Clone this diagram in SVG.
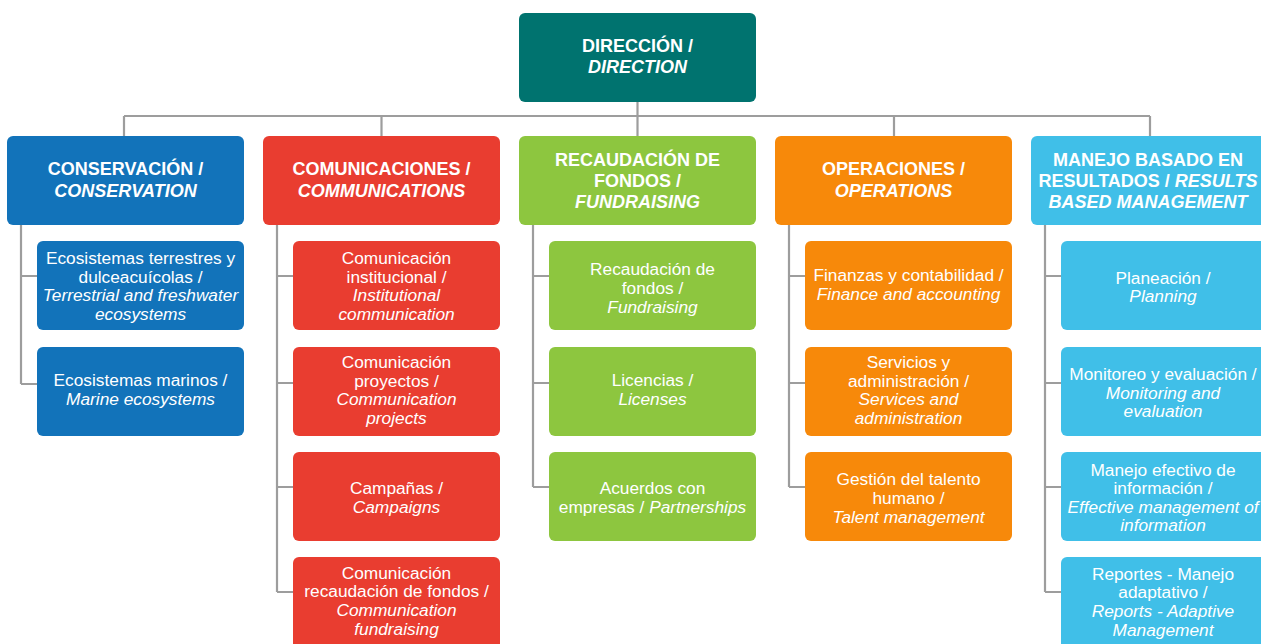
<svg xmlns="http://www.w3.org/2000/svg" width="1261" height="644" viewBox="0 0 1261 644">
<style>
.hd{font-family:"Liberation Sans",Arial,Helvetica,sans-serif;font-size:18px;font-weight:bold;fill:#fff;text-anchor:middle}
.ch{font-family:"Liberation Sans",Arial,Helvetica,sans-serif;font-size:17.3px;fill:#fff;text-anchor:middle}
.it{font-style:italic}
.ln{fill:none;stroke:#9d9d9d;stroke-width:2.2}
.dir{fill:#00736f}.con{fill:#1273ba}.com{fill:#e93d30}.rec{fill:#8dc63f}.ope{fill:#f7890a}.man{fill:#40bfe8}
</style>
<rect width="1261" height="644" fill="#fff"/>
<g id="connectors">
<path class="ln" d="M637.5 102V116M124 116H1150M124 116V136M381.5 116V136M637.5 116V136M894 116V136M1150 116V136"/>
<path class="ln" d="M21 225V384M21 276H37M21 384H37"/>
<path class="ln" d="M277 225V592M277 276H293M277 383H293M277 487H293M277 592H293"/>
<path class="ln" d="M533 225V487M533 276H549M533 383H549M533 487H549"/>
<path class="ln" d="M789 225V487M789 276H805M789 383H805M789 487H805"/>
<path class="ln" d="M1045 225V592M1045 276H1061M1045 383H1061M1045 487H1061M1045 592H1061"/>
</g>
<g id="direction">
<rect class="dir" x="519" y="13" width="237" height="89" rx="6"/>
<text class="hd" x="637.5" y="51.5">DIRECCIÓN /</text>
<text class="hd it" x="637.5" y="72.5">DIRECTION</text>
</g>
<g id="conservation">
<rect class="con" x="7" y="136" width="237" height="89" rx="6"/>
<text class="hd" x="125.5" y="174.5">CONSERVACIÓN /</text>
<text class="hd it" x="125.5" y="196.5">CONSERVATION</text>
</g>
<g id="communications">
<rect class="com" x="263" y="136" width="237" height="89" rx="6"/>
<text class="hd" x="381.5" y="174.5">COMUNICACIONES /</text>
<text class="hd it" x="381.5" y="196.5">COMMUNICATIONS</text>
</g>
<g id="fundraising">
<rect class="rec" x="519" y="136" width="237" height="89" rx="6"/>
<text class="hd" x="637.5" y="165.5">RECAUDACIÓN DE</text>
<text class="hd" x="637.5" y="186.5">FONDOS /</text>
<text class="hd it" x="637.5" y="207.5">FUNDRAISING</text>
</g>
<g id="operations">
<rect class="ope" x="775" y="136" width="237" height="89" rx="6"/>
<text class="hd" x="893.5" y="174.5">OPERACIONES /</text>
<text class="hd it" x="893.5" y="196.5">OPERATIONS</text>
</g>
<g id="rbm">
<rect class="man" x="1031" y="136" width="237" height="89" rx="6"/>
<text class="hd" x="1148" y="165.5">MANEJO BASADO EN</text>
<text class="hd" x="1148" y="186.5">RESULTADOS / <tspan class="it">RESULTS</tspan></text>
<text class="hd it" x="1148" y="207.5">BASED MANAGEMENT</text>
</g>
<g id="con1">
<rect class="con" x="37" y="241" width="207" height="89" rx="6"/>
<text class="ch" x="140.5" y="264">Ecosistemas terrestres y</text>
<text class="ch" x="140.5" y="283">dulceacuícolas /</text>
<text class="ch it" x="140.5" y="301">Terrestrial and freshwater</text>
<text class="ch it" x="140.5" y="320">ecosystems</text>
</g>
<g id="con2">
<rect class="con" x="37" y="347" width="207" height="89" rx="6"/>
<text class="ch" x="140.5" y="386">Ecosistemas marinos /</text>
<text class="ch it" x="140.5" y="405">Marine ecosystems</text>
</g>
<g id="com1">
<rect class="com" x="293" y="241" width="207" height="89" rx="6"/>
<text class="ch" x="396.5" y="264">Comunicación</text>
<text class="ch" x="396.5" y="283">institucional /</text>
<text class="ch it" x="396.5" y="301">Institutional</text>
<text class="ch it" x="396.5" y="320">communication</text>
</g>
<g id="com2">
<rect class="com" x="293" y="347" width="207" height="89" rx="6"/>
<text class="ch" x="396.5" y="368">Comunicación</text>
<text class="ch" x="396.5" y="387">proyectos /</text>
<text class="ch it" x="396.5" y="405">Communication</text>
<text class="ch it" x="396.5" y="424">projects</text>
</g>
<g id="com3">
<rect class="com" x="293" y="452" width="207" height="89" rx="6"/>
<text class="ch" x="396.5" y="494">Campañas /</text>
<text class="ch it" x="396.5" y="513">Campaigns</text>
</g>
<g id="com4">
<rect class="com" x="293" y="557" width="207" height="100" rx="6"/>
<text class="ch" x="396.5" y="579">Comunicación</text>
<text class="ch" x="396.5" y="597">recaudación de fondos /</text>
<text class="ch it" x="396.5" y="616">Communication</text>
<text class="ch it" x="396.5" y="635">fundraising</text>
</g>
<g id="rec1">
<rect class="rec" x="549" y="241" width="207" height="89" rx="6"/>
<text class="ch" x="652.5" y="275">Recaudación de</text>
<text class="ch" x="652.5" y="294">fondos /</text>
<text class="ch it" x="652.5" y="313">Fundraising</text>
</g>
<g id="rec2">
<rect class="rec" x="549" y="347" width="207" height="89" rx="6"/>
<text class="ch" x="652.5" y="386">Licencias /</text>
<text class="ch it" x="652.5" y="405">Licenses</text>
</g>
<g id="rec3">
<rect class="rec" x="549" y="452" width="207" height="89" rx="6"/>
<text class="ch" x="652.5" y="494">Acuerdos con</text>
<text class="ch" x="652.5" y="513">empresas / <tspan class="it">Partnerships</tspan></text>
</g>
<g id="ope1">
<rect class="ope" x="805" y="241" width="207" height="89" rx="6"/>
<text class="ch" x="908.5" y="281">Finanzas y contabilidad /</text>
<text class="ch it" x="908.5" y="300">Finance and accounting</text>
</g>
<g id="ope2">
<rect class="ope" x="805" y="347" width="207" height="89" rx="6"/>
<text class="ch" x="908.5" y="368">Servicios y</text>
<text class="ch" x="908.5" y="387">administración /</text>
<text class="ch it" x="908.5" y="405">Services and</text>
<text class="ch it" x="908.5" y="424">administration</text>
</g>
<g id="ope3">
<rect class="ope" x="805" y="452" width="207" height="89" rx="6"/>
<text class="ch" x="908.5" y="485">Gestión del talento</text>
<text class="ch" x="908.5" y="504">humano /</text>
<text class="ch it" x="908.5" y="523">Talent management</text>
</g>
<g id="man1">
<rect class="man" x="1061" y="241" width="207" height="89" rx="6"/>
<text class="ch" x="1163" y="284">Planeación /</text>
<text class="ch it" x="1163" y="302">Planning</text>
</g>
<g id="man2">
<rect class="man" x="1061" y="347" width="207" height="89" rx="6"/>
<text class="ch" x="1163" y="380">Monitoreo y evaluación /</text>
<text class="ch it" x="1163" y="399">Monitoring and</text>
<text class="ch it" x="1163" y="417">evaluation</text>
</g>
<g id="man3">
<rect class="man" x="1061" y="452" width="207" height="89" rx="6"/>
<text class="ch" x="1163" y="476">Manejo efectivo de</text>
<text class="ch" x="1163" y="494">información /</text>
<text class="ch it" x="1163" y="513">Effective management of</text>
<text class="ch it" x="1163" y="531">information</text>
</g>
<g id="man4">
<rect class="man" x="1061" y="557" width="207" height="100" rx="6"/>
<text class="ch" x="1163" y="580">Reportes - Manejo</text>
<text class="ch" x="1163" y="598">adaptativo /</text>
<text class="ch it" x="1163" y="617">Reports - Adaptive</text>
<text class="ch it" x="1163" y="636">Management</text>
</g>
</svg>
